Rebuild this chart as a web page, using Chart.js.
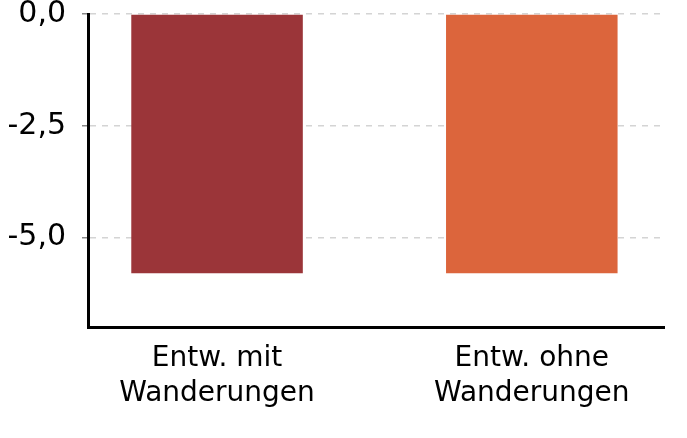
<!DOCTYPE html>
<html>
<head>
<meta charset="utf-8">
<script src="https://cdn.jsdelivr.net/npm/chart.js@4/dist/chart.umd.min.js"></script>
<style>
  html, body { margin: 0; padding: 0; background: #fff; }
  canvas { display: block; }
</style>
</head>
<body>
<canvas id="chart" width="687" height="438"></canvas>
<script>
// data
const categories = [['Entw. mit', 'Wanderungen'], ['Entw. ohne', 'Wanderungen']];
const values = [-5.8, -5.8];
const barColors = ['#9b3539', '#dc653c'];
const yTicks = [0, -2.5, -5];

const ctx = document.getElementById('chart').getContext('2d');

function fmt(v) {
    return v.toFixed(1).replace('.', ',');
}

new Chart(ctx, {
    type: 'bar',
    data: {
        datasets: [{
            data: values.map((v, i) => ({ x: i, y: v })),
            backgroundColor: barColors,
            borderWidth: 0,
            categoryPercentage: 1,
            barPercentage: 0.545
        }]
    },
    options: {
        responsive: false,
        animation: false,
        layout: { padding: { top: 14, right: 23, left: 0, bottom: 0 } },
        plugins: {
            legend: { display: false },
            tooltip: { enabled: false }
        },
        scales: {
            x: {
                type: 'linear',
                offset: false,
                min: -0.41,
                max: 1.42,
                afterBuildTicks: (scale) => {
                    scale.ticks = categories.map((c, i) => ({ value: i }));
                },
                afterFit: (scale) => { scale.height = 111; },
                grid: { display: false, offset: false },
                border: { display: true, color: '#000', width: 3 },
                ticks: {
                    autoSkip: false,
                    maxRotation: 0,
                    padding: 6,
                    color: '#000',
                    font: { family: 'DejaVu Sans', size: 28, lineHeight: 1.25 },
                    callback: (v) => categories[v]
                }
            },
            y: {
                min: -7,
                max: 0,
                afterBuildTicks: (scale) => {
                    scale.ticks = yTicks.map(v => ({ value: v }));
                },
                afterFit: (scale) => {
                    scale.width = 88;
                    scale.paddingTop = 0;
                    scale.paddingBottom = 0;
                },
                grid: {
                    color: '#d4d4d4',
                    lineWidth: 1.5,
                    tickColor: '#888',
                    tickLength: 6,
                    tickBorderDash: []
                },
                border: { display: true, color: '#000', width: 3, dash: [6, 6] },
                ticks: {
                    padding: 16,
                    color: '#000',
                    font: { family: 'DejaVu Sans', size: 30, lineHeight: 1.0 },
                    callback: (v) => fmt(v)
                }
            }
        }
    }
});
</script>
</body>
</html>
